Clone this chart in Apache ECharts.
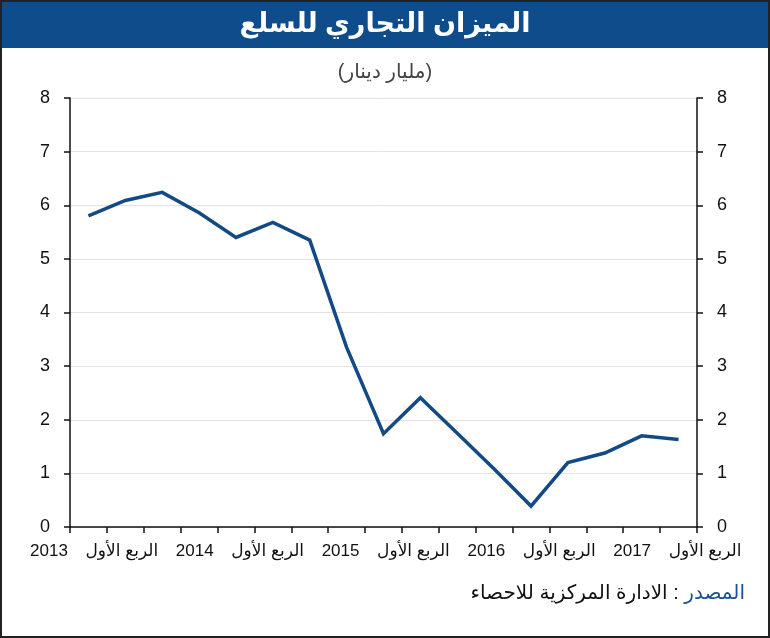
<!DOCTYPE html>
<html>
<head>
<meta charset="utf-8">
<script src="https://cdn.jsdelivr.net/npm/echarts@6/dist/echarts.min.js"></script>
<style>
  body { margin: 0; background: #fff; }
  #chart { width: 770px; height: 638px; }
</style>
</head>
<body>
<div id="chart"></div>
<script>
  // quarters 2013 Q1 .. 2017 Q1
  var quarters = ['2013Q1','2013Q2','2013Q3','2013Q4','2014Q1','2014Q2','2014Q3','2014Q4',
    '2015Q1','2015Q2','2015Q3','2015Q4','2016Q1','2016Q2','2016Q3','2016Q4','2017Q1'];
  // الميزان التجاري (مليار دينار)
  var balance = [5.80, 6.09, 6.24, 5.86, 5.40, 5.68, 5.35, 3.35, 1.74, 2.41, 1.75, 1.08, 0.39, 1.20, 1.38, 1.70, 1.63];
  var tickLabels = ['2013', 'الربع الأول', '2014', 'الربع الأول', '2015', 'الربع الأول', '2016', 'الربع الأول', '2017', 'الربع الأول'];

  var font = 'Arial, "Liberation Sans", "DejaVu Sans", sans-serif';
  var chart = echarts.init(document.getElementById('chart'));

  var yAxisBase = {
    type: 'value',
    min: 0,
    max: 8,
    interval: 1,
    axisLine: { show: true, lineStyle: { color: '#111', width: 1.5 } },
    axisTick: { show: true, length: 6, lineStyle: { color: '#111', width: 1.5 } },
    axisLabel: { color: '#111', fontSize: 18, fontFamily: font, margin: 20 }
  };

  chart.setOption({
    animation: false,
    title: [
      {
        text: 'الميزان التجاري للسلع',
        left: 'center',
        top: 6,
        textStyle: { color: '#fff', fontSize: 27, fontWeight: 'bold', fontFamily: font }
      },
      {
        text: '(مليار دينار)',
        left: 'center',
        top: 57,
        textStyle: { color: '#444', fontSize: 20, fontWeight: 'normal', fontFamily: font }
      },
      {
        text: '{a|الادارة المركزية للاحصاء : }{b|المصدر}',
        right: 20,
        top: 578,
        textStyle: {
          fontWeight: 'normal',
          rich: {
            a: { color: '#111', fontSize: 20, fontWeight: 'normal', fontFamily: font },
            b: { color: '#1a4f8f', fontSize: 20, fontWeight: 'normal', fontFamily: font }
          }
        }
      }
    ],
    graphic: [
      { type: 'rect', z: -1, shape: { x: 0, y: 0, width: 770, height: 48 }, style: { fill: '#0f4c8c' } },
      { type: 'rect', z: 10, shape: { x: 1, y: 1, width: 768, height: 636 }, style: { fill: 'none', stroke: '#222', lineWidth: 2 } }
    ],
    grid: [
      { left: 70, right: 73, top: 98, bottom: 111 },
      { left: 12.5, right: 28.5, top: 98, bottom: 111 }
    ],
    xAxis: [
      {
        type: 'category',
        gridIndex: 0,
        data: quarters,
        boundaryGap: true,
        axisLine: { lineStyle: { color: '#111', width: 1.5 } },
        axisTick: { show: true, length: 6, interval: 0, lineStyle: { color: '#111', width: 1.5 } },
        axisLabel: { show: false }
      },
      {
        type: 'category',
        gridIndex: 1,
        data: tickLabels,
        boundaryGap: true,
        axisLine: { show: false },
        axisTick: { show: false },
        axisLabel: { interval: 0, color: '#111', fontSize: 17, fontFamily: font, margin: 16 }
      }
    ],
    yAxis: [
      Object.assign({}, yAxisBase, {
        gridIndex: 0,
        position: 'left',
        splitLine: { show: true, lineStyle: { color: '#e3e3e3', width: 1 } }
      }),
      Object.assign({}, yAxisBase, {
        gridIndex: 0,
        position: 'right',
        splitLine: { show: false }
      }),
      { type: 'value', gridIndex: 1, show: false, min: 0, max: 8 }
    ],
    series: [
      {
        type: 'line',
        xAxisIndex: 0,
        yAxisIndex: 0,
        data: balance,
        symbol: 'none',
        lineStyle: { color: '#134a84', width: 3.5, join: 'miter' }
      }
    ]
  });
</script>
</body>
</html>
